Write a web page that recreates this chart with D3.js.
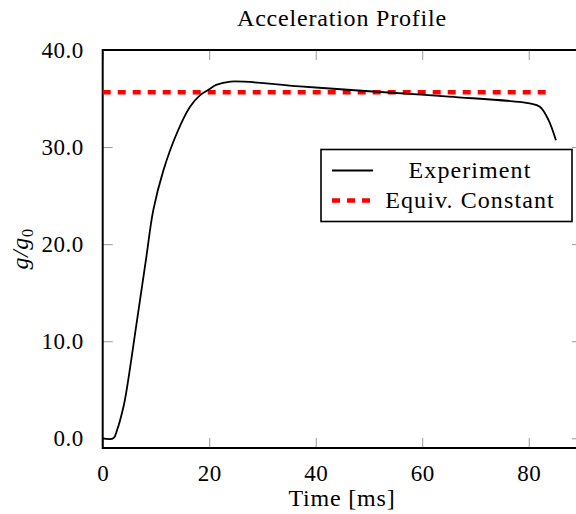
<!DOCTYPE html>
<head>
    <title>Acceleration Profile</title>
    <script src="https://d3js.org/d3.v7.min.js"></script>
    <style>
        body{
            margin: 0;
            background: #fff;
        }

        svg{
            display: block;
        }
    </style>
</head>
<body>
    <svg id="chart" width="576" height="514"></svg>

    <script>
        // Experiment curve (time in ms, g/g0)
        var timeMs = [0, 2, 2.7, 3.9, 4.5, 6.3, 8.2, 9.5, 11.4, 13.9, 16.4, 18.3, 20, 21.3, 24, 37, 50, 65, 80.2, 82.1, 83.7, 85.1];
        var accel  = [0, 0, 0.85, 3.25, 5.0, 11.6, 18.7, 23.5, 27.6, 31.4, 34.15, 35.35, 35.95, 36.4, 36.75, 36.25, 35.75, 35.2, 34.5, 34.15, 32.8, 30.7];

        // Equivalent constant acceleration
        var equivTime = [0, 84.5];
        var equivValue = 35.65;

        var xTicks = [0, 20, 40, 60, 80];
        var yTicks = [0, 10, 20, 30, 40];

        var FONT = "'Liberation Serif', 'Times New Roman', serif";

        var svg = d3.select("#chart");

        var margin = {left: 102.7, top: 50},
            plotW = 479.3,
            plotH = 398;

        var x = d3.scaleLinear().domain([0, 90]).range([margin.left, margin.left + plotW]);
        var y = d3.scaleLinear().domain([-1, 40]).range([margin.top + plotH, margin.top]);

        // Ticks point inwards on all four sides, like pgfplots
        var tickLen = 10;
        var g = svg.append("g");

        g.append("g")
            .attr("transform", "translate(0," + (margin.top + plotH) + ")")
            .call(d3.axisBottom(x).tickValues(xTicks).tickSizeInner(-tickLen).tickSizeOuter(0).tickPadding(17).tickFormat(d3.format("d")));
        g.append("g")
            .attr("transform", "translate(0," + margin.top + ")")
            .call(d3.axisTop(x).tickValues(xTicks).tickSizeInner(-tickLen).tickSizeOuter(0).tickFormat(""));
        g.append("g")
            .attr("transform", "translate(" + margin.left + ",0)")
            .call(d3.axisLeft(y).tickValues(yTicks).tickSizeInner(-tickLen).tickSizeOuter(0).tickPadding(19).tickFormat(d3.format(".1f")));
        g.append("g")
            .attr("transform", "translate(" + (margin.left + plotW) + ",0)")
            .call(d3.axisRight(y).tickValues(yTicks).tickSizeInner(-tickLen).tickSizeOuter(0).tickFormat(""));

        g.selectAll(".domain").remove();
        g.selectAll(".tick line").attr("stroke", "#999").attr("stroke-width", 1);
        g.selectAll(".tick text")
            .style("font-family", FONT)
            .style("font-size", "23px")
            .style("letter-spacing", "0.5px")
            .attr("fill", "#000");

        // Frame
        svg.append("rect")
            .attr("x", margin.left).attr("y", margin.top)
            .attr("width", plotW).attr("height", plotH)
            .attr("fill", "none").attr("stroke", "#000").attr("stroke-width", 2);

        // Red dashed constant
        svg.append("line")
            .attr("x1", x(equivTime[0])).attr("x2", x(equivTime[1]))
            .attr("y1", y(equivValue)).attr("y2", y(equivValue))
            .attr("stroke", "#f00").attr("stroke-width", 4.5)
            .attr("stroke-dasharray", "8,7");

        // Experiment line
        var line = d3.line()
            .x((d, i) => x(timeMs[i]))
            .y(d => y(d))
            .curve(d3.curveCatmullRom.alpha(0.5));

        svg.append("path")
            .datum(accel)
            .attr("d", line)
            .attr("fill", "none")
            .attr("stroke", "#000")
            .attr("stroke-width", 1.8);

        function label(sel, spacing){
            return sel.style("font-family", FONT)
                .style("font-size", "24px")
                .style("letter-spacing", (spacing || 0.8) + "px")
                .attr("text-anchor", "middle");
        }

        // Title and axis labels
        svg.append("text").call(label)
            .attr("x", 342).attr("y", 26)
            .text("Acceleration Profile");

        svg.append("text").call(label)
            .attr("x", 342).attr("y", 506)
            .text("Time [ms]");

        var yl = svg.append("text").call(label, 0.6)
            .attr("transform", "translate(28,249) rotate(-90)")
            .style("font-style", "italic");
        yl.append("tspan").text("g/g");
        yl.append("tspan").attr("dy", 5).style("font-size", "16px").style("font-style", "normal").text("0");

        // Legend
        var legend = svg.append("g");
        legend.append("rect")
            .attr("x", 321).attr("y", 149.5)
            .attr("width", 251).attr("height", 72)
            .attr("fill", "#fff").attr("stroke", "#000").attr("stroke-width", 1.6);

        legend.append("line")
            .attr("x1", 332).attr("x2", 373)
            .attr("y1", 170.5).attr("y2", 170.5)
            .attr("stroke", "#000").attr("stroke-width", 1.8);
        legend.append("text").call(label, 1.1)
            .attr("x", 470).attr("y", 178)
            .text("Experiment");

        legend.append("line")
            .attr("x1", 332).attr("x2", 373)
            .attr("y1", 200.5).attr("y2", 200.5)
            .attr("stroke", "#f00").attr("stroke-width", 4.5)
            .attr("stroke-dasharray", "8,7");
        legend.append("text").call(label, 1.1)
            .attr("x", 470).attr("y", 207.5)
            .text("Equiv. Constant");
    </script>
</body>
</html>
